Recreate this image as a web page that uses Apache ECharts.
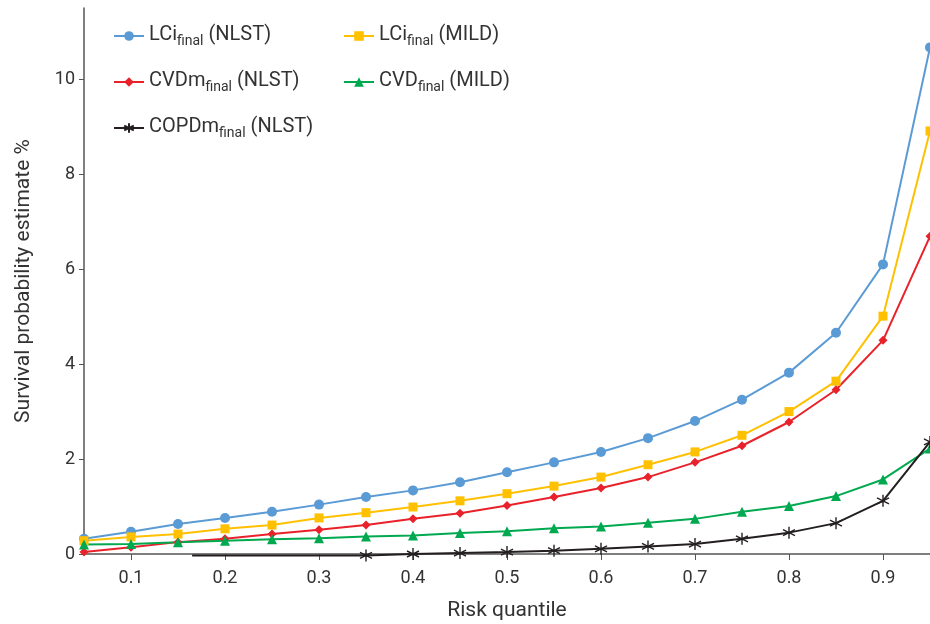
<!DOCTYPE html>
<html>
<head>
<meta charset="utf-8">
<script src="https://cdn.jsdelivr.net/npm/echarts@6/dist/echarts.min.js"></script>
<style>
  html, body { margin: 0; padding: 0; background: #fff; }
  #chart { width: 930px; height: 624px; }
</style>
</head>
<body>
<div id="chart"></div>
<script>
// risk quantiles
const quantiles = [0.05, 0.1, 0.15, 0.2, 0.25, 0.3, 0.35, 0.4, 0.45, 0.5, 0.55, 0.6, 0.65, 0.7, 0.75, 0.8, 0.85, 0.9, 0.95];

const lciNlst = [0.32, 0.47, 0.63, 0.76, 0.89, 1.04, 1.2, 1.34, 1.51, 1.72, 1.93, 2.15, 2.44, 2.8, 3.25, 3.82, 4.66, 6.1, 10.67];
const lciMild = [0.28, 0.36, 0.42, 0.53, 0.61, 0.76, 0.87, 0.99, 1.12, 1.27, 1.43, 1.62, 1.88, 2.15, 2.5, 3.0, 3.64, 5.01, 8.91];
const cvdmNlst = [0.04, 0.14, 0.25, 0.32, 0.42, 0.51, 0.61, 0.74, 0.86, 1.02, 1.2, 1.39, 1.62, 1.93, 2.28, 2.78, 3.46, 4.5, 6.69];
const cvdMild = [0.2, 0.21, 0.25, 0.28, 0.31, 0.33, 0.37, 0.39, 0.44, 0.48, 0.54, 0.58, 0.66, 0.74, 0.89, 1.01, 1.22, 1.57, 2.22];
// COPD line starts near 0.165 without a marker, markers from 0.35
const copdX = [0.165, 0.35, 0.4, 0.45, 0.5, 0.55, 0.6, 0.65, 0.7, 0.75, 0.8, 0.85, 0.9, 0.95];
const copdNlst = [-0.03, -0.03, 0.0, 0.02, 0.04, 0.07, 0.11, 0.16, 0.21, 0.32, 0.45, 0.65, 1.12, 2.36];

const xTicks = [0.1, 0.2, 0.3, 0.4, 0.5, 0.6, 0.7, 0.8, 0.9];
const yTicks = [0, 2, 4, 6, 8, 10];

const legendLabels = {
  "LCi (NLST)": ["LCi", "final", " (NLST)"],
  "LCi (MILD)": ["LCi", "final", " (MILD)"],
  "CVDm (NLST)": ["CVDm", "final", " (NLST)"],
  "CVD (MILD)": ["CVD", "final", " (MILD)"],
  "COPDm (NLST)": ["COPDm", "final", " (NLST)"],
};

const FONT = "Roboto";
const starPath = "path://M5,0L5,10M0.67,2.5L9.33,7.5M0.67,7.5L9.33,2.5";

function pairs(xs, ys) {
  return xs.map((x, i) => [x, ys[i]]);
}

const chart = echarts.init(document.getElementById("chart"));

function legendFormatter(name) {
  const p = legendLabels[name];
  return "{b|" + p[0] + "}{s|" + p[1] + "}{b|" + p[2] + "}";
}

const legendText = {
  fontFamily: FONT,
  color: "#333",
  rich: {
    b: { fontSize: 20, fontFamily: FONT, color: "#333", lineHeight: 24, verticalAlign: "bottom", padding: [0, 0, 3, 0] },
    s: { fontSize: 14, fontFamily: FONT, color: "#333", lineHeight: 14, verticalAlign: "bottom" },
  },
};

const option = {
  animation: false,
  grid: { left: 84, right: 0, top: 8, bottom: 70, outerBoundsMode: "none", containLabel: false },
  legend: [
    {
      data: ["LCi (NLST)", "CVDm (NLST)", "COPDm (NLST)"],
      orient: "vertical",
      left: 108,
      top: 20,
      itemWidth: 30,
      itemHeight: 12,
      itemGap: 23,
      formatter: legendFormatter,
      textStyle: legendText,
    },
    {
      data: ["LCi (MILD)", "CVD (MILD)"],
      orient: "vertical",
      left: 338,
      top: 20,
      itemWidth: 30,
      itemHeight: 12,
      itemGap: 23,
      formatter: legendFormatter,
      textStyle: legendText,
    },
  ],
  xAxis: {
    type: "value",
    min: 0.05,
    max: 0.95,
    name: "Risk quantile",
    nameLocation: "middle",
    nameGap: 46,
    nameTextStyle: { fontFamily: FONT, fontSize: 21, color: "#333" },
    splitLine: { show: false },
    axisLine: { lineStyle: { color: "#555", width: 1.5 } },
    axisTick: { show: true, length: 6, lineStyle: { color: "#555" }, customValues: xTicks },
    axisLabel: {
      fontFamily: FONT, fontSize: 18, color: "#333", margin: 15,
      customValues: xTicks,
      formatter: (v) => v.toFixed(1),
    },
  },
  yAxis: {
    type: "value",
    min: 0,
    max: 11.5,
    name: "Survival probability estimate %",
    nameLocation: "middle",
    nameGap: 50,
    nameRotate: 90,
    nameTextStyle: { fontFamily: FONT, fontSize: 21, color: "#333" },
    splitLine: { show: false },
    axisLine: { show: true, lineStyle: { color: "#555", width: 1.5 } },
    axisTick: { show: true, length: 5, lineStyle: { color: "#555" }, customValues: yTicks },
    axisLabel: { fontFamily: FONT, fontSize: 18, color: "#333", margin: 9, customValues: yTicks },
  },
  series: [
    {
      name: "LCi (NLST)",
      type: "line",
      data: pairs(quantiles, lciNlst),
      symbol: "circle",
      symbolSize: 10,
      clip: false,
      color: "#5B9BD5",
      lineStyle: { width: 2 },
    },
    {
      name: "LCi (MILD)",
      type: "line",
      data: pairs(quantiles, lciMild),
      symbol: "rect",
      symbolSize: 9,
      clip: false,
      color: "#FFC000",
      lineStyle: { width: 2 },
    },
    {
      name: "CVDm (NLST)",
      type: "line",
      data: pairs(quantiles, cvdmNlst),
      symbol: "diamond",
      symbolSize: 9,
      clip: false,
      color: "#E8212A",
      lineStyle: { width: 2 },
    },
    {
      name: "CVD (MILD)",
      type: "line",
      data: pairs(quantiles, cvdMild),
      symbol: "triangle",
      symbolSize: 10,
      clip: false,
      color: "#00A94F",
      lineStyle: { width: 2 },
    },
    {
      name: "COPDm (NLST)",
      type: "line",
      data: pairs(copdX, copdNlst).map((d, i) => (i === 0 ? { value: d, symbolSize: 0 } : d)),
      symbol: starPath,
      symbolSize: 12,
      showAllSymbol: true,
      clip: false,
      color: "#231F20",
      itemStyle: { borderColor: "#231F20", borderWidth: 1.4 },
      lineStyle: { width: 2 },
    },
  ],
};

chart.setOption(option);
</script>
</body>
</html>
